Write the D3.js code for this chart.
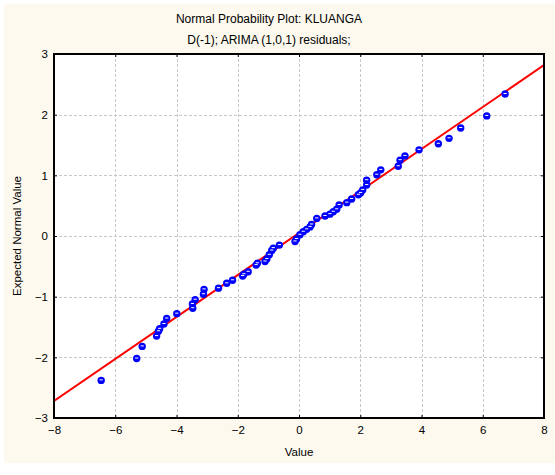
<!DOCTYPE html>
<html>
<head>
<meta charset="utf-8">
<script src="https://cdn.jsdelivr.net/npm/d3@7"></script>
<style>
  html, body { margin: 0; padding: 0; background: #ffffff; }
  svg { display: block; font-family: "Liberation Sans", Arial, sans-serif; }
</style>
</head>
<body>
<svg id="chart" width="555" height="475"></svg>
<script>
// Residual values and their expected normal scores
const residuals = [-6.46, -5.30, -5.12, -4.65, -4.59, -4.55, -4.41, -4.32, -3.99, -3.47,
  -3.48, -3.39, -3.12, -3.10, -2.63, -2.36, -2.17, -1.84, -1.80, -1.66,
  -1.40, -1.36, -1.11, -1.05, -0.97, -0.89, -0.84, -0.64, -0.13, -0.08,
  0.03, 0.14, 0.25, 0.36, 0.41, 0.58, 0.85, 1.01, 1.12, 1.23,
  1.31, 1.56, 1.72, 1.94, 2.01, 2.08, 2.21, 2.21, 2.54, 2.67,
  3.24, 3.30, 3.46, 3.92, 4.55, 4.90, 5.28, 6.13, 6.73];
const expectedNormal = [-2.38, -2.02, -1.82, -1.65, -1.57, -1.53, -1.45, -1.36, -1.28, -1.19,
  -1.12, -1.05, -0.96, -0.88, -0.86, -0.78, -0.73, -0.66, -0.63, -0.59,
  -0.48, -0.45, -0.42, -0.38, -0.31, -0.24, -0.20, -0.15, -0.09, -0.05,
  0.02, 0.07, 0.11, 0.15, 0.19, 0.29, 0.33, 0.36, 0.40, 0.44,
  0.51, 0.55, 0.61, 0.68, 0.71, 0.76, 0.84, 0.92, 1.01, 1.09,
  1.15, 1.25, 1.32, 1.42, 1.52, 1.61, 1.78, 1.98, 2.34];

// Fitted reference line: expected = intercept + slope * value
const fitIntercept = 0.05;
const fitSlope = 0.346;

const xTicks = [-8, -6, -4, -2, 0, 2, 4, 6, 8];
const yTicks = [-3, -2, -1, 0, 1, 2, 3];

const titleLines = ["Normal Probability Plot: KLUANGA", "D(-1); ARIMA (1,0,1) residuals;"];
const xTitle = "Value";
const yTitle = "Expected Normal Value";

const svg = d3.select("#chart");
const W = 555, H = 475;
const plot = { left: 54, right: 544, top: 54, bottom: 418 };

svg.append("rect").attr("x", 4).attr("y", 4).attr("width", W - 4).attr("height", 459)
  .attr("fill", "#fdf9ee");

const x = d3.scaleLinear().domain([-8, 8]).range([plot.left, plot.right]);
const y = d3.scaleLinear().domain([-3, 3]).range([plot.bottom, plot.top]);

svg.append("rect")
  .attr("x", plot.left).attr("y", plot.top)
  .attr("width", plot.right - plot.left).attr("height", plot.bottom - plot.top)
  .attr("fill", "#ffffff");

// Dashed grid
const grid = svg.append("g").attr("stroke", "#c8c8c8").attr("stroke-width", 1)
  .attr("stroke-dasharray", "3,2");
grid.selectAll("line.v").data(xTicks.slice(1, -1)).join("line")
  .attr("x1", d => Math.round(x(d)) + 0.5).attr("x2", d => Math.round(x(d)) + 0.5)
  .attr("y1", plot.top).attr("y2", plot.bottom);
grid.selectAll("line.h").data(yTicks.slice(1, -1)).join("line")
  .attr("y1", d => Math.round(y(d)) + 0.5).attr("y2", d => Math.round(y(d)) + 0.5)
  .attr("x1", plot.left).attr("x2", plot.right);

// Axes with inward ticks on all four sides
function styleAxis(g) {
  g.select(".domain").remove();
  g.selectAll(".tick line").attr("stroke", "#000").attr("stroke-width", 1);
  g.selectAll(".tick text").attr("fill", "#000").attr("font-size", 11.5)
    .attr("font-family", "Liberation Sans, Arial, sans-serif");
}
svg.append("g").attr("transform", `translate(0,${plot.bottom})`)
  .call(d3.axisBottom(x).tickValues(xTicks).tickFormat(d3.format("d")).tickSizeInner(-3).tickPadding(8))
  .call(styleAxis);
svg.append("g").attr("transform", `translate(0,${plot.top})`)
  .call(d3.axisTop(x).tickValues(xTicks).tickFormat("").tickSizeInner(-3))
  .call(styleAxis);
svg.append("g").attr("transform", `translate(${plot.left},0)`)
  .call(d3.axisLeft(y).tickValues(yTicks).tickFormat(d3.format("d")).tickSizeInner(-3).tickPadding(6))
  .call(styleAxis);
svg.append("g").attr("transform", `translate(${plot.right},0)`)
  .call(d3.axisRight(y).tickValues(yTicks).tickFormat("").tickSizeInner(-3))
  .call(styleAxis);

// Reference line, clipped to the plot frame
svg.append("clipPath").attr("id", "clip").append("rect")
  .attr("x", plot.left).attr("y", plot.top)
  .attr("width", plot.right - plot.left).attr("height", plot.bottom - plot.top);
const lineXs = [-8, 8];
svg.append("path")
  .attr("clip-path", "url(#clip)")
  .attr("d", d3.line().x(d => x(d)).y(d => y(fitIntercept + fitSlope * d))(lineXs))
  .attr("stroke", "#ff0000").attr("stroke-width", 2).attr("fill", "none");

// Points
const pts = residuals.map((v, i) => ({ v, e: expectedNormal[i] }));
const mk = svg.append("g").attr("clip-path", "url(#clip)");
mk.selectAll("circle").data(pts).join("circle")
  .attr("cx", d => x(d.v)).attr("cy", d => y(d.e)).attr("r", 3.7)
  .attr("fill", "#0000ff");
mk.selectAll("line").data(pts).join("line")
  .attr("x1", d => x(d.v) - 1.6).attr("x2", d => x(d.v) + 1.6)
  .attr("y1", d => y(d.e) - 0.5).attr("y2", d => y(d.e) - 0.5)
  .attr("stroke", "#ffffff").attr("stroke-width", 1);

// Frame
svg.append("rect")
  .attr("x", plot.left).attr("y", plot.top)
  .attr("width", plot.right - plot.left).attr("height", plot.bottom - plot.top)
  .attr("fill", "none").attr("stroke", "#000").attr("stroke-width", 2);

// Titles
svg.selectAll("text.title").data(titleLines).join("text")
  .attr("class", "title")
  .attr("x", 269).attr("y", (d, i) => 23 + i * 21)
  .attr("text-anchor", "middle").attr("font-size", 12).attr("fill", "#000")
  .text(d => d);

svg.append("text").attr("x", (plot.left + plot.right) / 2).attr("y", 456)
  .attr("text-anchor", "middle").attr("font-size", 11.5).text(xTitle);

svg.append("text")
  .attr("transform", `translate(21,${(plot.top + plot.bottom) / 2}) rotate(-90)`)
  .attr("text-anchor", "middle").attr("font-size", 11.5).text(yTitle);
</script>
</body>
</html>
